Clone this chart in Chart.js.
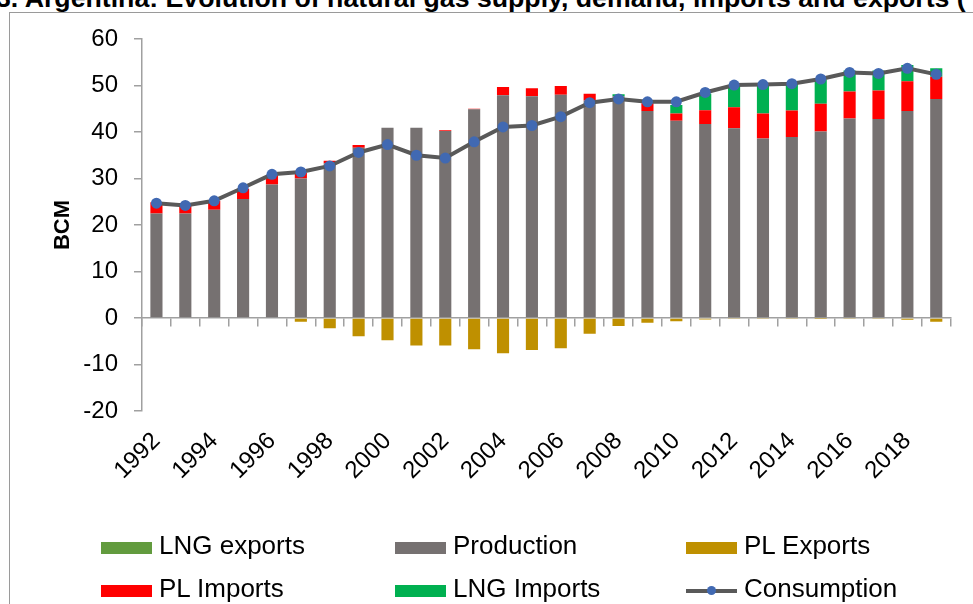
<!DOCTYPE html>
<html>
<head>
<meta charset="utf-8">
<script src="https://cdn.jsdelivr.net/npm/chart.js@4/dist/chart.umd.min.js"></script>
<style>
  body { margin: 0; background: #fff; font-family: "Liberation Sans", Arial, sans-serif; }
  #wrap { position: relative; width: 973px; height: 604px; overflow: hidden; }
  #frame { position: absolute; left: 9px; top: 12px; width: 1200px; height: 900px; border: 1px solid #9a9a9a; }
  #title { position: absolute; left: -4px; top: -15px; font-size: 26.7px; line-height: 26.7px; font-weight: bold; white-space: nowrap; color: #000; }
  canvas { position: absolute; left: 0; top: 0; }
  .item { position: absolute; font-size: 26px; line-height: 30px; white-space: nowrap; color: #000; }
  .swatch { display: inline-block; width: 51px; height: 12px; margin-right: 7px; }
  .lineMark { display: inline-block; position: relative; width: 51px; height: 12px; margin-right: 7px; }
  .lineMark i { position: absolute; left: 0; top: 4px; width: 51px; height: 4px; }
  .lineMark b { position: absolute; left: 21px; top: 1px; width: 9px; height: 9px; border-radius: 50%; }
</style>
</head>
<body>
<div id="wrap">
  <div id="frame"></div>
  <div id="title">3. Argentina: Evolution of natural gas supply, demand, imports and exports (</div>
  <canvas id="chart" width="973" height="604"></canvas>
  <div id="legend"></div>
</div>
<script>
// values in BCM
var years = ['1992', '1993', '1994', '1995', '1996', '1997', '1998', '1999', '2000', '2001',
             '2002', '2003', '2004', '2005', '2006', '2007', '2008', '2009', '2010', '2011',
             '2012', '2013', '2014', '2015', '2016', '2017', '2018', '2019'];

var lngExports = [0, 0, 0, 0, 0, 0, 0, 0, 0, 0, 0, 0, 0, 0, 0, 0, 0, 0, 0, 0, 0, 0, 0, 0, 0, 0, 0, 0];

var production = [22.5, 22.5, 23.3, 25.6, 28.7, 30.0, 33.3, 36.6, 40.9, 40.9,
                  40.2, 44.9, 47.9, 47.7, 48.0, 46.8, 47.7, 44.5, 42.4, 41.7,
                  40.8, 38.6, 38.9, 40.1, 42.9, 42.8, 44.5, 47.1];

var plExports = [0, 0, 0, 0, 0, -0.8, -2.2, -3.9, -4.8, -5.9,
                 -5.9, -6.7, -7.6, -6.9, -6.5, -3.4, -1.7, -1.0, -0.7, -0.3,
                 -0.1, -0.1, -0.1, -0.05, -0.1, -0.1, -0.4, -0.8];

var plImports = [2.4, 2.2, 1.9, 2.2, 2.0, 1.2, 0.5, 0.6, 0, 0,
                 0.2, 0.1, 1.8, 1.7, 1.9, 1.4, 0, 1.7, 1.6, 3.0,
                 4.5, 5.4, 5.7, 6.0, 5.8, 6.1, 6.4, 4.8];

var lngImports = [0, 0, 0, 0, 0, 0, 0, 0, 0, 0,
                  0, 0, 0, 0, 0, 0, 0.4, 0, 1.8, 3.6,
                  4.8, 6.0, 5.7, 5.2, 4.5, 4.3, 3.5, 1.8];

var consumption = [24.7, 24.2, 25.2, 28.0, 30.9, 31.4, 32.7, 35.6, 37.3, 35.0,
                   34.4, 37.9, 41.1, 41.4, 43.3, 46.3, 47.1, 46.5, 46.5, 48.5,
                   50.1, 50.2, 50.4, 51.4, 52.8, 52.6, 53.7, 52.4];

var axisGrey = '#a0a0a0';
var fontName = '"Liberation Sans", Arial, sans-serif';

function barSet(label, data, color) {
    return {
        type: 'bar',
        label: label,
        data: data,
        backgroundColor: color,
        borderWidth: 0,
        stack: 'supply',
        barPercentage: 0.42,
        categoryPercentage: 1
    };
}

var datasets = [
    barSet('LNG exports', lngExports, '#629B3E'),
    barSet('Production', production, '#767171'),
    barSet('PL Exports', plExports, '#BF9000'),
    barSet('PL Imports', plImports, '#FF0000'),
    barSet('LNG Imports', lngImports, '#00B050'),
    {
        type: 'line',
        label: 'Consumption',
        data: consumption,
        stack: 'consumption',
        order: -1,
        borderColor: '#595959',
        borderWidth: 4,
        tension: 0,
        pointRadius: 5.5,
        pointBackgroundColor: '#4169B2',
        pointBorderWidth: 0
    }
];

var chart = new Chart(document.getElementById('chart'), {
    data: { labels: years, datasets: datasets },
    options: {
        responsive: false,
        animation: false,
        devicePixelRatio: 1,
        layout: { padding: { left: 0, right: 21, top: 39, bottom: 0 } },
        plugins: { legend: { display: false }, tooltip: { enabled: false } },
        scales: {
            x: {
                type: 'category',
                position: { y: 0 },
                stacked: true,
                offset: true,
                grid: { display: true, drawOnChartArea: false, drawTicks: true, tickLength: 8, offset: true, color: axisGrey, lineWidth: 1.5 },
                border: { display: true, color: axisGrey, width: 1.5 },
                ticks: { display: false }
            },
            x2: {
                type: 'category',
                labels: years,
                position: 'bottom',
                offset: true,
                grid: { display: false, drawTicks: false },
                border: { display: false },
                ticks: {
                    autoSkip: false,
                    minRotation: 45,
                    maxRotation: 45,
                    padding: 16,
                    color: '#000',
                    font: { family: fontName, size: 24 },
                    callback: function(value, index) {
                        return index % 2 === 0 ? years[index] : '';
                    }
                },
                afterFit: function(scale) { scale.height = 193; }
            },
            y: {
                stacked: true,
                min: -20,
                max: 60,
                ticks: { stepSize: 10, padding: 16, color: '#000', font: { family: fontName, size: 24 } },
                grid: { display: true, drawOnChartArea: false, drawTicks: true, tickLength: 8, color: axisGrey, lineWidth: 1.5 },
                border: { display: true, color: axisGrey, width: 1.5 },
                title: {
                    display: true,
                    text: 'BCM',
                    color: '#000',
                    font: { family: fontName, size: 22, weight: 'bold' },
                    padding: { top: 50, bottom: 0 }
                },
                afterFit: function(scale) { scale.width = 142; }
            }
        }
    }
});

// legend laid out in three columns like the original
var legendOrder = ['LNG exports', 'Production', 'PL Exports', 'PL Imports', 'LNG Imports', 'Consumption'];
var colLeft = [101, 395, 686];
var rowTop = [530, 572.5];
var legend = document.getElementById('legend');

for (var i = 0; i < legendOrder.length; i++) {
    var ds = chart.data.datasets.filter(function(d) { return d.label === legendOrder[i]; })[0];
    var item = document.createElement('div');
    item.className = 'item';
    item.style.left = colLeft[i % 3] + 'px';
    item.style.top = rowTop[Math.floor(i / 3)] + 'px';
    var mark;
    if (ds.type === 'line') {
        mark = document.createElement('span');
        mark.className = 'lineMark';
        mark.innerHTML = '<i></i><b></b>';
        mark.children[0].style.background = ds.borderColor;
        mark.children[1].style.background = ds.pointBackgroundColor;
    } else {
        mark = document.createElement('span');
        mark.className = 'swatch';
        mark.style.background = ds.backgroundColor;
    }
    item.appendChild(mark);
    item.appendChild(document.createTextNode(ds.label));
    legend.appendChild(item);
}
</script>
</body>
</html>
